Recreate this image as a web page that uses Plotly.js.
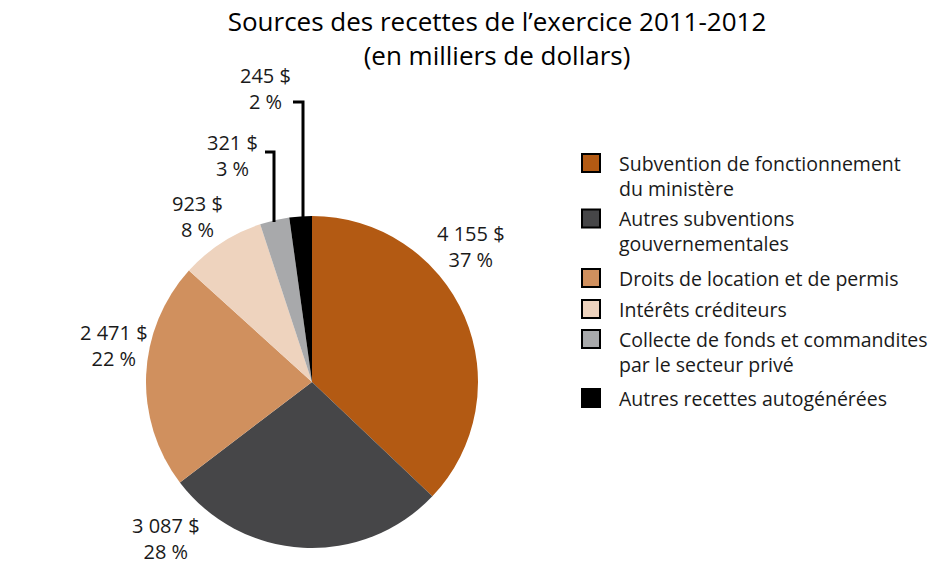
<!DOCTYPE html>
<html>
<head>
<meta charset="utf-8">
<script src="https://cdn.plot.ly/plotly-3.0.1.min.js"></script>
<style>html,body{margin:0;padding:0;background:#fff;}#chart{width:951px;height:567px;}</style>
</head>
<body>
<div id="chart"></div>
<script>
// ---- data ----
var titleText = "Sources des recettes de l’exercice 2011-2012<br>(en milliers de dollars)";
var categories = [
  "Subvention de fonctionnement du ministère",
  "Autres subventions gouvernementales",
  "Droits de location et de permis",
  "Intérêts créditeurs",
  "Collecte de fonds et commandites par le secteur privé",
  "Autres recettes autogénérées"
];
var legendLabels = [
  "Subvention de fonctionnement<br>du ministère",
  "Autres subventions<br>gouvernementales",
  "Droits de location et de permis",
  "Intérêts créditeurs",
  "Collecte de fonds et commandites<br>par le secteur privé",
  "Autres recettes autogénérées"
];
var values = [4155, 3087, 2471, 923, 321, 245];
var colors = ["#B35A13", "#464648", "#D0905E", "#EED3BE", "#A8A9AB", "#000000"];

// ---- layout helpers (pixel -> paper) ----
var W = 951, H = 567;
function px(x){ return x / W; }
function py(y){ return 1 - y / H; }

var total = values.reduce(function(a,b){return a+b;}, 0);
function fmt(v){ return String(v).replace(/\B(?=(\d{3})+(?!\d))/g, " ") + " $"; }
function pct(v){ return Math.round(v / total * 100) + " %"; }

// label positions (centre of the two-line label block, pixels)
var labelPos = [[471, 246], [166, 540], [114, 345], [197, 216], [232, 155], [265, 88]];

var font = "Open Sans, Noto Sans, sans-serif";
var txtColor = "#1a1a1a";

var annotations = [];
values.forEach(function(v, i){
  var cy = labelPos[i][1];
  var nearBottom = cy + 29 > H;
  annotations.push({xref:"paper", yref:"paper", x:px(labelPos[i][0]),
    y: nearBottom ? 0 : py(cy),
    xanchor:"center", yanchor: nearBottom ? "bottom" : "middle", align:"center",
    showarrow:false, text:fmt(v) + "<br>" + pct(v),
    font:{family:font, size:20, color:txtColor}});
});

// legend (squares + text)
var legendSq = [163, 218.5, 278, 309, 339, 398];
var shapes = [];
legendLabels.forEach(function(t, i){
  var cy = legendSq[i];
  var lines = t.split("<br>").length;
  shapes.push({type:"rect", xref:"paper", yref:"paper",
    x0:px(582), x1:px(600), y0:py(cy - 9), y1:py(cy + 9),
    fillcolor:colors[i], line:{color:"#000", width:2}});
  annotations.push({xref:"paper", yref:"paper", x:px(617), y:py(cy + (lines - 1) * 12.5),
    xanchor:"left", yanchor:"middle", align:"left", showarrow:false, text:t,
    font:{family:font, size:19.5, color:txtColor}});
});

// leader lines for the two small slices
var lead = {color:"#000", width:3};
shapes.push({type:"path", xref:"paper", yref:"paper",
  path:"M"+px(293)+","+py(102)+" L"+px(303)+","+py(102)+" L"+px(303)+","+py(217),
  line:lead});
shapes.push({type:"path", xref:"paper", yref:"paper",
  path:"M"+px(265)+","+py(152)+" L"+px(274)+","+py(152)+" L"+px(274)+","+py(222),
  line:lead});

var trace = {
  type:"pie",
  labels:categories,
  values:values,
  sort:false,
  direction:"clockwise",
  rotation:0,
  textinfo:"none",
  hoverinfo:"label+value+percent",
  marker:{colors:colors, line:{width:0}},
  showlegend:false,
  domain:{x:[px(146), px(478)], y:[py(548), py(216)]}
};

var layout = {
  width:W, height:H,
  margin:{l:0, r:0, t:0, b:0},
  paper_bgcolor:"#fff",
  showlegend:false,
  title:{text:titleText,
    x:px(497), xanchor:"center", xref:"paper",
    y:py(31), yref:"container", yanchor:"middle",
    font:{family:font, size:26, color:"#000"}},
  annotations:annotations,
  shapes:shapes
};

Plotly.newPlot("chart", [trace], layout, {displayModeBar:false, staticPlot:true});
</script>
</body>
</html>
